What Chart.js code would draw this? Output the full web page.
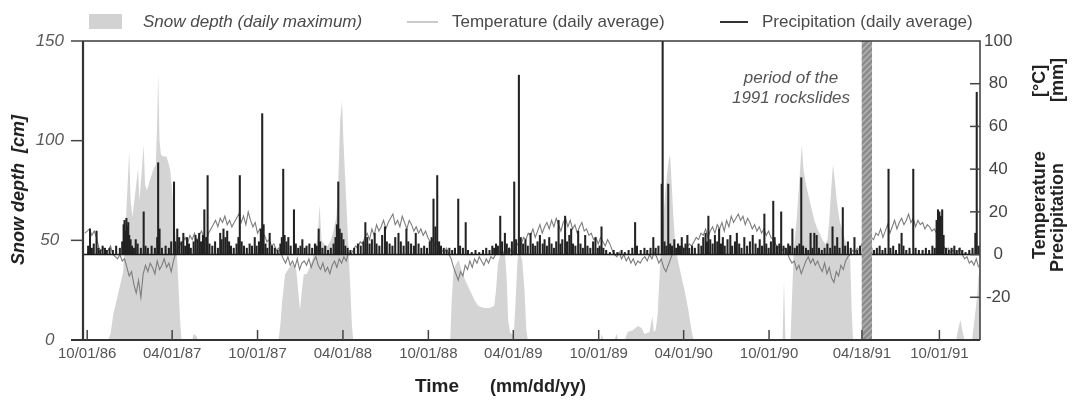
<!DOCTYPE html>
<html><head><meta charset="utf-8">
<script src="https://cdn.jsdelivr.net/npm/chart.js@4.4.1/dist/chart.umd.min.js"></script>
<style>html,body{margin:0;padding:0;background:#fff;}canvas{display:block;}</style>
</head><body>
<canvas id="c" width="1080" height="401"></canvas>
<script>
// ---- data (days counted from 10/01/86) ----
const tickDays   = [0,182,365,548,731,913,1096,1278,1461,1660,1826];
const tickLabels = ['10/01/86','04/01/87','10/01/87','04/01/88','10/01/88','04/01/89','10/01/89','04/01/90','10/01/90','04/18/91','10/01/91'];

const snowDays = [45,50,56,63,70,77,82,86,90,93,97,102,106,109,112,116,121,124,128,134,141,147,150,152,155,158,163,170,175,178,182,186,190,193,196,199,202,225,228,234,237,
410,414,418,424,432,440,448,452,456,460,464,470,476,482,488,494,498,502,508,515,522,528,534,538,542,546,549,552,556,560,564,567,570,
778,781,785,790,796,802,810,820,830,838,850,862,872,876,880,884,890,895,899,902,906,910,914,918,922,926,932,937,941,944,
1100,1102,1106,1130,1134,1138,1152,1158,1170,1180,1188,1194,1205,1211,1214,1218,1222,1226,1230,1234,1238,1242,1246,1249,1252,1256,1260,1264,1272,1280,1288,1294,1299,
1490,1493,1496,1507,1510,1514,1520,1526,1531,1535,1540,1546,1552,1558,1564,1570,1576,1582,1586,1590,1594,1598,1602,1606,1612,1618,1624,1630,1635,1638,1641,
1862,1866,1871,1876,1880,1896,1900,1906,1910,1913];
const snowDepth = [0,3,13,20,27,34,55,75,95,70,62,72,80,86,70,82,98,78,75,80,85,88,110,134,100,93,92,92,88,85,75,62,50,40,25,10,0,0,3,2,0,
0,8,20,33,36,38,35,25,15,25,33,33,36,40,45,52,68,50,48,47,50,55,62,80,110,120,100,85,65,45,25,8,0,
0,20,35,38,40,35,30,25,20,17,16,16,17,25,38,42,45,44,30,10,4,3,2,20,40,44,40,25,5,0,
0,3,0,0,3,0,0,4,5,7,6,3,4,12,4,5,12,30,48,60,72,82,90,93,80,62,48,42,33,25,15,6,0,
0,30,0,0,20,45,60,80,98,85,78,72,66,60,56,53,50,48,50,60,75,88,80,70,60,55,50,45,40,15,0,
0,5,10,4,0,0,8,20,32,38];

const tempStartDay = -5, tempStepDays = 5;
const temperature = [
10,11,12,9,11,8,3,2,3,1, 2,4,0,-1,-2,0,-3,-2,-6,-10, -8,-14,-18,-12,-20,-9,-5,-8,-4,-6, -9,-3,-7,-5,-2,-6,-4,-8,-3,1,
3,5,6,8,5,9,7,10,6,9, 11,8,7,10,12,14,16,13,17,15, 18,14,16,13,15,17,19,15,18,14, 20,16,13,15,10,12,8,9,6,7,
4,5,2,3,1,-2,-4,-1,-5,-3, -6,-2,-7,-4,-3,-5,-2,-6,-3,-1, -5,-7,-4,-8,-6,-9,-5,-3,-6,-2, -4,-1,-3,1,0,2,4,3,6,5,
8,10,7,12,9,14,11,13,16,12, 15,17,19,14,16,13,18,15,12,16, 14,11,13,10,12,9,11,8,6,7, 4,6,3,2,1,3,0,-2,-6,-9,
-12,-8,-10,-5,-7,-3,-6,-2,-4,-1, -3,-5,-2,-4,-1,-2,0,2,1,0, 2,1,3,0,2,4,6,5,8,7, 10,9,12,8,11,14,10,13,15,12,
16,13,17,14,11,15,17,13,16,12, 14,10,13,15,11,12,9,10,7,8, 5,8,6,4,7,5,2,0,-1,1, -2,0,-3,-1,-4,-2,-5,-3,-4,-2,
-1,-3,0,-2,1,-1,-4,-2,-6,-8, -5,-2,1,2,3,1,4,2,3,5, 4,6,8,7,10,9,12,8,11,13, 10,14,12,15,11,16,13,18,15,17,
19,16,18,14,17,15,12,14,11,13, 10,12,9,11,8,7,5,3,4,2, 3,1,-2,-4,-3,-7,-5,-9,-6,-3, -1,-4,-2,-5,-3,-6,-8,-4,-9,-6,
-11,-13,-8,-10,-5,-7,-3,-1,0,2, 1,3,2,5,4,6,3,8,7,10, 9,12,8,11,14,10,13,16,12,15, 17,14,16,19,15,17,13,16,14,15,
12,14,13,11,12,10,8,6,4,2, 3,1,2,0,1,3,0,-2,-1,-4, -3,-5,-2,-6];

const precipDays = [2,6,10,14,20,24,28,33,38,42,48,55,62,70,75,78,80,82,84,86,88,90,93,96,100,104,108,115,121,125,130,138,145,150,152,155,160,168,175,180,186,189,193,197,202,206,210,214,218,222,228,232,236,240,244,248,251,255,258,262,268,274,280,285,288,292,296,300,304,308,314,320,324,327,331,336,342,348,353,359,363,368,372,375,378,382,386,391,396,402,408,414,417,420,423,427,431,436,443,447,452,457,461,466,470,476,
482,488,492,496,499,504,510,516,522,528,532,535,538,541,545,549,553,558,564,572,580,586,592,596,600,605,610,616,620,626,632,638,642,648,654,660,667,672,678,684,688,694,700,704,710,716,722,728,734,738,742,746,750,754,758,764,770,776,782,788,795,799,805,811,816,824,832,840,848,855,862,868,872,876,880,885,889,895,899,904,910,915,919,925,929,934,939,944,950,955,
960,965,970,976,980,985,990,995,1000,1005,1010,1014,1018,1024,1028,1033,1037,1041,1046,1052,1057,1062,1067,1072,1078,1084,1089,1094,1098,1102,1106,1112,1120,1128,1136,1145,1152,1160,1168,1174,1178,1186,1194,1200,1207,1213,1218,1224,1231,1233,1237,1241,1245,1249,1253,1258,1262,1266,1270,1274,1278,1282,1286,1290,1296,1302,1310,1316,1320,1325,1328,1331,1335,1340,1345,1350,1354,1358,1362,1366,1372,1378,1382,1388,1392,1397,1402,1408,1414,1420,1426,1432,1437,
1441,1446,1451,1455,1460,1465,1470,1473,1478,1483,1487,1492,1497,1502,1506,1511,1516,1521,1526,1530,1534,1540,1545,1550,1554,1558,1563,1568,1574,1580,1586,1592,1597,1602,1607,1612,1619,1624,1630,1636,1644,1650,1656,1662,1668,1674,1680,1686,1692,1698,1704,1710,1717,1721,1727,1733,1740,1745,1749,1755,1762,1770,1775,1782,1790,1797,1804,1811,1816,1820,1823,1826,1829,1832,1835,1840,1846,1852,1858,1863,1869,1875,1882,1890,1897,1903,1906,1910];
const precipMM = [4,12,3,5,11,3,2,4,3,2,3,2,4,3,6,14,16,11,17,13,15,9,7,4,3,7,5,3,20,4,3,4,3,8,43,12,3,4,3,6,34,6,12,8,6,10,4,8,5,3,6,9,7,10,6,9,21,8,37,5,4,6,3,10,7,12,8,11,6,4,3,5,8,37,6,4,3,5,4,8,4,6,12,66,14,5,3,10,4,3,2,5,8,40,9,6,8,4,21,5,3,4,7,3,4,5,
3,5,4,12,6,3,4,2,3,5,8,14,34,12,10,7,4,3,2,3,5,4,6,15,8,5,7,10,5,4,9,13,6,5,4,8,10,6,4,12,6,5,4,10,5,3,4,3,6,8,26,13,37,6,4,3,2,3,2,3,26,4,3,15,2,1,2,1,2,3,2,4,3,5,4,18,6,10,5,3,6,34,7,84,8,5,7,4,10,5,
4,6,9,5,7,4,8,5,3,6,16,5,7,18,6,9,12,5,4,11,5,3,9,4,3,6,8,3,4,13,3,2,1,2,1,2,1,2,3,15,4,2,3,2,3,8,3,4,33,100,6,4,33,5,4,7,3,5,4,8,3,5,9,3,4,3,5,4,8,10,6,18,7,5,9,6,12,5,8,4,7,9,4,6,10,5,3,8,4,6,9,5,3,
7,4,19,5,3,6,25,8,4,5,20,4,3,5,4,12,3,4,5,36,4,3,2,10,3,10,9,3,2,3,5,3,13,4,8,3,22,4,6,3,8,2,4,3,5,12,3,2,3,4,2,3,40,3,4,2,5,10,4,2,3,40,3,2,2,3,2,4,3,16,21,20,18,21,9,3,2,3,4,2,3,2,1,2,3,10,76,4];

const rockslideStart = 1659, rockslideEnd = 1682; // 04/18/91 - 05/10/91

// ---- styling ----
const FONT = '"Liberation Sans", Arial, Helvetica, sans-serif';

function hatchPattern() {
  const c = document.createElement('canvas'); c.width = 6; c.height = 6;
  const g = c.getContext('2d');
  g.fillStyle = '#8c8c8c'; g.fillRect(0, 0, 6, 6);
  g.strokeStyle = '#b4b4b4'; g.lineWidth = 1.4;
  g.beginPath();
  g.moveTo(-1, 7); g.lineTo(7, -1);
  g.moveTo(-4, 4); g.lineTo(4, -4);
  g.moveTo(2, 10); g.lineTo(10, 2);
  g.stroke();
  return g.createPattern(c, 'repeat');
}

const snowData = snowDays.map((d, i) => ({x: d, y: snowDepth[i]}));
const tempData = temperature.map((t, i) => ({x: tempStartDay + i * tempStepDays, y: t}));
const precipData = precipDays.map((d, i) => ({x: d, y: precipMM[i]}));
const bandData = [{x: rockslideStart, y: 150}, {x: rockslideEnd, y: 150}];

const decor = {
  id: 'decor',
  afterDatasetDraw(chart, args) {
    if (args.index !== 2) return;
    const {ctx, chartArea: a} = chart;
    const y0 = chart.scales.yRight.getPixelForValue(0);
    ctx.save();
    ctx.strokeStyle = '#1a1a1a'; ctx.lineWidth = 1.5;
    ctx.beginPath(); ctx.moveTo(a.left, y0); ctx.lineTo(a.right, y0); ctx.stroke();
    ctx.restore();
  },
  afterDraw(chart) {
    const {ctx, chartArea: a, scales} = chart;
    ctx.save();
    // frame
    ctx.strokeStyle = '#3a3a3a';
    ctx.lineWidth = 1.5;
    ctx.beginPath(); ctx.moveTo(a.left, a.top); ctx.lineTo(a.right, a.top); ctx.lineTo(a.right, a.bottom); ctx.stroke();
    ctx.lineWidth = 2.2; ctx.strokeStyle = '#333';
    ctx.beginPath(); ctx.moveTo(a.left, a.top); ctx.lineTo(a.left, a.bottom); ctx.stroke();
    ctx.beginPath(); ctx.moveTo(a.left - 12, a.bottom); ctx.lineTo(a.right, a.bottom); ctx.stroke();
    // ticks
    ctx.lineWidth = 1.5; ctx.strokeStyle = '#444';
    [50, 100, 150].forEach(v => {
      const y = scales.ySnow.getPixelForValue(v);
      ctx.beginPath(); ctx.moveTo(a.left - 12, y); ctx.lineTo(a.left, y); ctx.stroke();
    });
    [-20, 0, 20, 40, 60, 80].forEach(v => {
      const y = scales.yRight.getPixelForValue(v);
      ctx.beginPath(); ctx.moveTo(a.right - 10, y); ctx.lineTo(a.right, y); ctx.stroke();
    });
    tickDays.forEach(d => {
      const x = scales.x.getPixelForValue(d);
      ctx.beginPath(); ctx.moveTo(x, a.bottom); ctx.lineTo(x, a.bottom - 10); ctx.stroke();
    });
    // legend
    ctx.textBaseline = 'middle'; ctx.textAlign = 'left';
    ctx.fillStyle = '#d2d2d2'; ctx.fillRect(89, 14, 33, 15);
    ctx.fillStyle = '#4a4a4a';
    ctx.font = 'italic 17px ' + FONT; ctx.fillText('Snow depth (daily maximum)', 143, 22);
    ctx.strokeStyle = '#b8b8b8'; ctx.lineWidth = 1.5;
    ctx.beginPath(); ctx.moveTo(407, 22); ctx.lineTo(438, 22); ctx.stroke();
    ctx.font = '17px ' + FONT; ctx.fillText('Temperature (daily average)', 452, 22);
    ctx.strokeStyle = '#333'; ctx.lineWidth = 2;
    ctx.beginPath(); ctx.moveTo(720, 22); ctx.lineTo(748, 22); ctx.stroke();
    ctx.fillText('Precipitation (daily average)', 762, 22);
    // rockslide annotation
    ctx.fillStyle = '#555'; ctx.textAlign = 'center';
    ctx.font = 'italic 17px ' + FONT;
    ctx.fillText('period of the', 791, 78);
    ctx.fillText('1991 rockslides', 791, 98);
    // x title
    ctx.fillStyle = '#222'; ctx.textAlign = 'left';
    ctx.font = 'bold 19px ' + FONT;
    ctx.fillText('Time', 415, 387);
    ctx.font = 'bold 18px ' + FONT;
    ctx.fillText('(mm/dd/yy)', 490, 387);
    // left title
    ctx.save();
    ctx.translate(19, 190); ctx.rotate(-Math.PI / 2);
    ctx.textAlign = 'center'; ctx.font = 'bold italic 18px ' + FONT;
    ctx.fillText('Snow depth  [cm]', 0, 0);
    ctx.restore();
    // right titles
    const rot = (txt, x, y) => { ctx.save(); ctx.translate(x, y); ctx.rotate(-Math.PI / 2); ctx.fillText(txt, 0, 0); ctx.restore(); };
    ctx.textAlign = 'left'; ctx.font = 'bold 18px ' + FONT;
    rot('Temperature', 1040, 259);
    rot('[°C]', 1040, 97);
    rot('Precipitation', 1058, 272);
    rot('[mm]', 1058, 102);
    ctx.restore();
  }
};

new Chart(document.getElementById('c'), {
  type: 'line',
  data: {
    datasets: [
      {label: 'Snow depth (daily maximum)', data: snowData, yAxisID: 'ySnow', order: 4,
       fill: 'origin', backgroundColor: '#d4d4d4', borderColor: 'rgba(0,0,0,0)', borderWidth: 0,
       pointRadius: 0, tension: 0},
      {label: 'Temperature (daily average)', data: tempData, yAxisID: 'yRight', order: 3,
       fill: false, borderColor: '#7d7d7d', borderWidth: 1.1, pointRadius: 0, tension: 0},
      {type: 'bar', label: 'Precipitation (daily average)', data: precipData, yAxisID: 'yRight', order: 2,
       backgroundColor: '#222', barThickness: 1.4, borderWidth: 0},
      {label: 'rockslides', data: bandData, yAxisID: 'ySnow', order: 1,
       fill: 'origin', backgroundColor: hatchPattern(), borderWidth: 0, borderColor: 'rgba(0,0,0,0)', pointRadius: 0}
    ]
  },
  options: {
    responsive: false, animation: false, events: [],
    layout: {padding: {top: 41, left: 0, right: 0, bottom: 0}},
    plugins: {legend: {display: false}, tooltip: {enabled: false}, title: {display: false}},
    scales: {
      x: {
        type: 'linear', min: -9, max: 1913, offset: false,
        grid: {display: false, drawTicks: false}, border: {display: false},
        afterBuildTicks: s => { s.ticks = tickDays.map(v => ({value: v})); },
        afterFit: s => { s.height = 61; },
        ticks: {autoSkip: false, maxRotation: 0, padding: 5, color: '#555',
          font: {family: FONT, size: 15},
          callback: v => { const i = tickDays.indexOf(v); return i >= 0 ? tickLabels[i] : ''; }}
      },
      ySnow: {
        type: 'linear', position: 'left', min: 0, max: 150,
        grid: {display: false, drawTicks: false}, border: {display: false},
        afterFit: s => { s.width = 83; },
        ticks: {stepSize: 50, padding: 19, crossAlign: 'center', color: '#5a5a5a',
          font: {family: FONT, size: 17, style: 'italic'}}
      },
      yRight: {
        type: 'linear', position: 'right', min: -40, max: 100,
        grid: {display: false, drawTicks: false}, border: {display: false},
        afterFit: s => { s.width = 100; },
        ticks: {stepSize: 20, padding: 4, crossAlign: 'center', color: '#444',
          font: {family: FONT, size: 17},
          callback: v => v === -40 ? '' : String(v)}
      }
    }
  },
  plugins: [decor]
});
</script>
</body></html>
